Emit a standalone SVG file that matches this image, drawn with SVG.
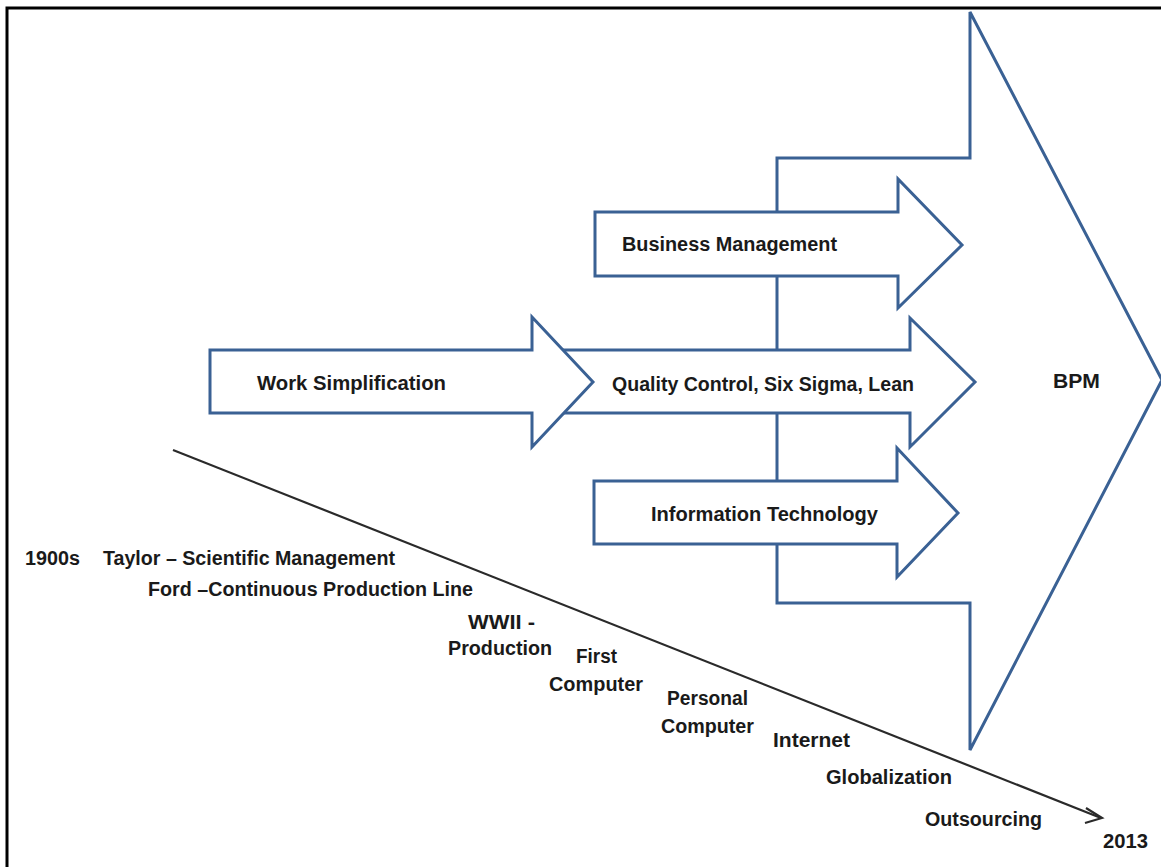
<svg xmlns="http://www.w3.org/2000/svg" width="1161" height="867" viewBox="0 0 1161 867">
<style>
.arr{fill:#fff;stroke:#3A6194;stroke-width:3;stroke-linejoin:miter}
.t{font-family:"Liberation Sans",Arial,sans-serif;font-weight:bold;font-size:19.5px;fill:#1a1a1a}
.tl{fill:none;stroke:#2a2a2a;stroke-width:2.2}
</style>
<rect x="0" y="0" width="1161" height="867" fill="#fff"/>
<path d="M7,870 V8 H1165" fill="none" stroke="#000" stroke-width="3"/>
<g id="bpm">
<path class="arr" d="M777,158 H970 V12 L1162,380 L970,750 V603 H777 Z"/>
<text class="t" x="1053" y="388" textLength="47" lengthAdjust="spacingAndGlyphs">BPM</text>
</g>
<g id="business-management">
<path class="arr" d="M595,212 H898 V179 L962,245 L898,308 V276 H595 Z"/>
<text class="t" x="622" y="251" textLength="215" lengthAdjust="spacingAndGlyphs">Business Management</text>
</g>
<g id="quality-control">
<path class="arr" d="M545,350 H910 V318 L975,382 L910,447 V413 H545 Z"/>
<text class="t" x="612" y="391" textLength="302" lengthAdjust="spacingAndGlyphs">Quality Control, Six Sigma, Lean</text>
</g>
<g id="information-technology">
<path class="arr" d="M594,481 H897 V448 L958,513 L897,577 V544 H594 Z"/>
<text class="t" x="651" y="521" textLength="227" lengthAdjust="spacingAndGlyphs">Information Technology</text>
</g>
<g id="work-simplification">
<path class="arr" d="M210,350 H532 V317 L593,382 L532,447 V413 H210 Z"/>
<text class="t" x="257" y="390" textLength="189" lengthAdjust="spacingAndGlyphs">Work Simplification</text>
</g>
<g id="connectors">
<line class="tl" x1="173" y1="450" x2="1101" y2="818"/>
<polyline class="tl" points="1086,808 1102,818 1085,823"/>
</g>
<g id="timeline-labels">
<text class="t" x="25" y="565" textLength="55" lengthAdjust="spacingAndGlyphs">1900s</text>
<text class="t" x="103" y="565" textLength="292" lengthAdjust="spacingAndGlyphs">Taylor – Scientific Management</text>
<text class="t" x="148" y="596" textLength="325" lengthAdjust="spacingAndGlyphs">Ford –Continuous  Production Line</text>
<text class="t" x="468" y="629" textLength="67" lengthAdjust="spacingAndGlyphs">WWII -</text>
<text class="t" x="448" y="655" textLength="104" lengthAdjust="spacingAndGlyphs">Production</text>
<text class="t" x="576" y="663" textLength="41" lengthAdjust="spacingAndGlyphs">First</text>
<text class="t" x="549" y="691" textLength="94" lengthAdjust="spacingAndGlyphs">Computer</text>
<text class="t" x="667" y="705" textLength="81" lengthAdjust="spacingAndGlyphs">Personal</text>
<text class="t" x="661" y="733" textLength="93" lengthAdjust="spacingAndGlyphs">Computer</text>
<text class="t" x="773" y="747" textLength="77" lengthAdjust="spacingAndGlyphs">Internet</text>
<text class="t" x="826" y="784" textLength="126" lengthAdjust="spacingAndGlyphs">Globalization</text>
<text class="t" x="925" y="826" textLength="117" lengthAdjust="spacingAndGlyphs">Outsourcing</text>
<text class="t" x="1103" y="848" textLength="45" lengthAdjust="spacingAndGlyphs">2013</text>
</g>
</svg>
